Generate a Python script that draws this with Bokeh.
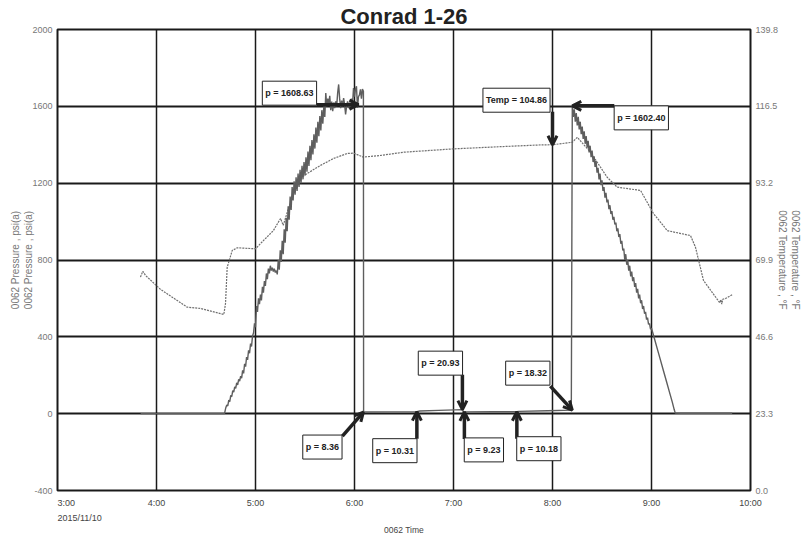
from bokeh.plotting import figure
from bokeh.models import Range1d, LinearAxis, FixedTicker, Label, Arrow, OpenHead, Title
from bokeh.embed import file_html
from bokeh.resources import INLINE

FONT = "Liberation Sans"

# ---------------- data ----------------
title_text = "Conrad 1-26"
x_ticks = [3, 4, 5, 6, 7, 8, 9, 10]
x_tick_labels = ["3:00", "4:00", "5:00", "6:00", "7:00", "8:00", "9:00", "10:00"]
date_label = "2015/11/10"
x_axis_label = "0062 Time"
p_ticks = [-400, 0, 400, 800, 1200, 1600, 2000]
p_tick_labels = ["-400", "0", "400", "800", "1200", "1600", "2000"]
p_axis_label = "0062 Pressure , psi(a)"
t_ticks = [0.0, 23.3, 46.6, 69.9, 93.2, 116.5, 139.8]
t_tick_labels = ["0.0", "23.3", "46.6", "69.9", "93.2", "116.5", "139.8"]
t_axis_label = "0062 Temperature , \u00b0F"

# pressure samples: (hour of day, psi)
pressure_samples = [
    (3.84, 0), (4.687, 0), (4.700, 31), (4.710, 45), (4.720, 40), (4.730, 70),
    (4.740, 62), (4.750, 95), (4.760, 88), (4.770, 120), (4.780, 112), (4.790, 140),
    (4.800, 132), (4.810, 160), (4.820, 150), (4.830, 178), (4.840, 170), (4.850, 195),
    (4.860, 185), (4.870, 225), (4.880, 210), (4.890, 260), (4.900, 245), (4.910, 295),
    (4.920, 280), (4.930, 330), (4.940, 315), (4.950, 365), (4.960, 350), (4.970, 405),
    (4.980, 420), (4.990, 470), (5.000, 450), (5.010, 560), (5.020, 530), (5.030, 600),
    (5.040, 570), (5.050, 620), (5.060, 590), (5.070, 660), (5.080, 630), (5.090, 690),
    (5.100, 665), (5.110, 730), (5.120, 700), (5.130, 755), (5.140, 730), (5.150, 770),
    (5.160, 745), (5.170, 760), (5.180, 740), (5.190, 755), (5.200, 735), (5.210, 745),
    (5.220, 725), (5.230, 800), (5.240, 750), (5.250, 850), (5.260, 790), (5.270, 900),
    (5.280, 830), (5.290, 960), (5.300, 890), (5.310, 1020), (5.320, 950), (5.330, 1080),
    (5.340, 1010), (5.350, 1130), (5.360, 1060), (5.370, 1180), (5.380, 1110), (5.390, 1210),
    (5.400, 1140), (5.410, 1230), (5.420, 1160), (5.430, 1250), (5.440, 1180), (5.450, 1270),
    (5.460, 1200), (5.470, 1290), (5.480, 1220), (5.490, 1310), (5.500, 1240), (5.510, 1335),
    (5.520, 1260), (5.530, 1365), (5.540, 1290), (5.550, 1395), (5.560, 1320), (5.570, 1425),
    (5.580, 1350), (5.590, 1455), (5.600, 1380), (5.610, 1490), (5.620, 1410), (5.630, 1520),
    (5.640, 1445), (5.650, 1550), (5.660, 1475), (5.670, 1580), (5.680, 1510), (5.690, 1600),
    (5.700, 1545), (5.710, 1669), (5.720, 1600), (5.730, 1640), (5.740, 1610), (5.750, 1655),
    (5.760, 1580), (5.770, 1625), (5.780, 1575), (5.790, 1620), (5.800, 1590), (5.810, 1626),
    (5.820, 1600), (5.830, 1670), (5.840, 1714), (5.850, 1640), (5.860, 1591), (5.870, 1630),
    (5.880, 1600), (5.890, 1643), (5.900, 1610), (5.910, 1558), (5.920, 1600), (5.930, 1626),
    (5.940, 1590), (5.950, 1620), (5.960, 1580), (5.970, 1640), (5.980, 1610), (5.990, 1695),
    (6.000, 1650), (6.010, 1690), (6.020, 1704), (6.030, 1591), (6.040, 1650), (6.050, 1660),
    (6.060, 1688), (6.070, 1640), (6.080, 1690), (6.090, 1678), (6.092, 8.36), (6.35, 9.5),
    (6.63, 10.31), (6.66, 14.0), (6.85, 17.0), (7.09, 20.93), (7.10, 9.23), (7.40, 9.8),
    (7.64, 10.18), (7.66, 12.0), (7.95, 15.5), (8.19, 18.32), (8.200, 1602.40), (8.210, 1545),
    (8.220, 1585), (8.230, 1520), (8.240, 1565), (8.250, 1500), (8.260, 1545), (8.270, 1480),
    (8.280, 1520), (8.290, 1455), (8.300, 1495), (8.310, 1430), (8.320, 1470), (8.330, 1405),
    (8.340, 1445), (8.350, 1385), (8.360, 1420), (8.370, 1360), (8.380, 1395), (8.390, 1335),
    (8.400, 1370), (8.410, 1310), (8.420, 1340), (8.430, 1285), (8.440, 1315), (8.450, 1255),
    (8.460, 1280), (8.470, 1220), (8.480, 1250), (8.490, 1190), (8.500, 1215), (8.510, 1160),
    (8.520, 1180), (8.530, 1125), (8.540, 1150), (8.550, 1100), (8.560, 1115), (8.570, 1065),
    (8.580, 1085), (8.590, 1040), (8.600, 1055), (8.610, 1010), (8.620, 1025), (8.630, 985),
    (8.640, 995), (8.650, 950), (8.660, 965), (8.670, 920), (8.680, 935), (8.690, 885),
    (8.700, 900), (8.710, 850), (8.720, 860), (8.730, 800), (8.740, 830), (8.750, 775),
    (8.760, 800), (8.770, 745), (8.780, 770), (8.790, 715), (8.800, 740), (8.810, 690),
    (8.820, 710), (8.830, 660), (8.840, 680), (8.850, 630), (8.860, 650), (8.870, 600),
    (8.880, 620), (8.890, 575), (8.900, 590), (8.910, 545), (8.920, 560), (8.930, 520),
    (8.940, 530), (8.950, 490), (8.960, 500), (8.970, 465), (8.980, 470), (8.990, 440),
    (9.000, 445), (9.030, 390), (9.060, 335), (9.090, 280), (9.120, 225), (9.150, 170),
    (9.180, 115), (9.210, 60), (9.230, 20), (9.240, 3), (9.300, 2), (9.815, 2),
]
pressure_time = [t for t, _ in pressure_samples]
pressure_psi = [v for _, v in pressure_samples]

temp_time = [
    3.838, 3.862, 3.89, 4.04, 4.31, 4.444, 4.68, 4.697, 4.714, 4.765, 4.815,
    5.0, 5.08, 5.18, 5.253, 5.28, 5.42, 5.52, 5.657, 5.79, 5.926, 5.99,
    6.09, 6.263, 6.5, 7.0, 7.5, 7.88, 8.0, 8.2, 8.25, 8.384, 8.552, 8.653,
    8.889, 9.02, 9.16, 9.394, 9.444, 9.525, 9.69, 9.70, 9.71, 9.72, 9.747,
    9.815,
]
temp_f = [
    64.7, 66.5, 65.2, 61.0, 55.6, 55.2, 53.4, 56.7, 67.7, 72.8, 73.6,
    73.3, 75.8, 78.8, 82.5, 80.4, 94.0, 96.1, 98.6, 100.7, 102.2, 102.3,
    101.1, 101.6, 102.6, 103.6, 104.3, 104.8, 104.86, 105.6, 107.1, 102.6, 95.0, 92.0,
    91.0, 84.0, 78.8, 77.3, 73.8, 63.7, 56.9, 57.9, 56.5, 58.0, 58.2,
    59.4,
]

# annotations: text, tip (time, value, axis), tail offset px (dx, dy down), box offset px from tail
annotations = [
    ("p = 1608.63", 6.04, 1608.63, "p", (-42, 0), (-27, -11.5)),
    ("Temp = 104.86", 8.0, 104.86, "t", (0, -33), (-36, -11.5)),
    ("p = 1602.40", 8.2, 1602.40, "p", (42, 0), (27, 12)),
    ("p = 8.36", 6.09, 8.36, "p", (-21, 24), (-20, 11)),
    ("p = 10.31", 6.63, 10.31, "p", (0, 27), (-22, 12)),
    ("p = 20.93", 7.09, 20.93, "p", (0, -35), (-22, -11.5)),
    ("p = 9.23", 7.11, 9.23, "p", (0, 27), (19.5, 11)),
    ("p = 10.18", 7.64, 10.18, "p", (0, 27), (22, 10)),
    ("p = 18.32", 8.2, 18.32, "p", (-22, -24), (-22.5, -13)),
]

# ---------------- figure ----------------
FW, FH = 693, 461
X0, X1 = 3, 10
P0, P1 = -400, 2000
T0, T1 = 0.0, 139.8

p = figure(frame_width=FW, frame_height=FH, output_backend="svg", toolbar_location=None,
           x_range=Range1d(X0, X1), y_range=Range1d(P0, P1),
           min_border_left=57, min_border_right=0, min_border_top=0, min_border_bottom=0,
           background_fill_color="white", border_fill_color="white")
p.extra_y_ranges = {"temp": Range1d(T0, T1)}

p.title.text = title_text
p.title.align = "center"
p.title.text_font = FONT
p.title.text_font_size = "22px"
p.title.text_font_style = "bold"
p.title.text_color = "#222222"
p.title.standoff = 2

p.outline_line_color = "#1a1a1a"
p.outline_line_width = 2

p.xgrid.grid_line_color = "#1a1a1a"
p.xgrid.grid_line_width = 1.5
p.ygrid.grid_line_color = "#1a1a1a"
p.ygrid.grid_line_width = 2

NB = "\u00a0"
# x axis
xa = p.xaxis[0]
xa.ticker = FixedTicker(ticks=x_ticks)
xa.major_label_overrides = {t: (l if i > 0 else NB * 7 + l)
                            for i, (t, l) in enumerate(zip(x_ticks, x_tick_labels))}
xa.major_label_standoff = 7
xa.major_label_text_font = FONT
xa.major_label_text_font_size = "9px"
xa.major_label_text_color = "#444444"

# left axis
ya = p.yaxis[0]
ya.ticker = FixedTicker(ticks=p_ticks)
ya.major_label_overrides = dict(zip(p_ticks, p_tick_labels))
ya.axis_label = p_axis_label + "\n" + p_axis_label
ya.axis_label_standoff = -5
ya.major_label_standoff = 5

# right axis
ra = LinearAxis(y_range_name="temp", ticker=FixedTicker(ticks=t_ticks))
ra.major_label_overrides = dict(zip(t_ticks, t_tick_labels))
ra.axis_label = t_axis_label + "\n" + t_axis_label
ra.axis_label_standoff = -4
ra.major_label_standoff = 5
p.add_layout(ra, "right")

for ax in [xa, ya, ra]:
    ax.axis_line_color = None
    ax.major_tick_line_color = None
    ax.minor_tick_line_color = None
    ax.major_tick_out = 0
    ax.major_tick_in = 0
    ax.minor_tick_out = 0
    ax.minor_tick_in = 0
for ax in [ya, ra]:
    ax.major_label_text_font = FONT
    ax.major_label_text_font_size = "9px"
    ax.major_label_text_color = "#777777"
    ax.axis_label_text_font = FONT
    ax.axis_label_text_font_size = "10px"
    ax.axis_label_text_font_style = "normal"
    ax.axis_label_text_color = "#777777"

# date under first tick, then axis title
p.add_layout(Title(text=date_label, align="left", text_font=FONT, text_font_size="9px",
                   text_font_style="normal", text_color="#444444", standoff=0), "below")
p.add_layout(Title(text=x_axis_label, align="center", text_font=FONT, text_font_size="8.5px",
                   text_font_style="normal", text_color="#444444", standoff=0), "below")

# series
p.line(temp_time, temp_f, y_range_name="temp", line_color="#707070", line_width=1.2,
       line_dash="2 1")
p.line(pressure_time, pressure_psi, line_color="#5e5e5e", line_width=1.4)

# annotations
PXH = FW / (X1 - X0)
PXP = FH / (P1 - P0)

def t_to_p(t):
    return P0 + (t - T0) * (P1 - P0) / (T1 - T0)

for text, tx, tv, axis, (dx, dy), (bdx, bdy) in annotations:
    ty = tv if axis == "p" else t_to_p(tv)
    sx = tx + dx / PXH
    sy = ty - dy / PXP
    bx = sx + bdx / PXH
    by = sy - bdy / PXP
    p.add_layout(Arrow(x_start=sx, y_start=sy, x_end=tx, y_end=ty,
                       line_color="#222222", line_width=3.5,
                       end=OpenHead(size=9, line_width=3, line_color="#222222")))
    p.add_layout(Label(x=bx, y=by, text=text, text_align="center", text_baseline="middle",
                       text_font=FONT, text_font_size="9px", text_font_style="bold",
                       text_color="#222222", background_fill_color="white",
                       border_line_color="#222222", border_line_width=1,
                       padding=dict(left=3, right=3, top=7, bottom=7)))

open("out.html", "w").write(file_html(p, INLINE))
